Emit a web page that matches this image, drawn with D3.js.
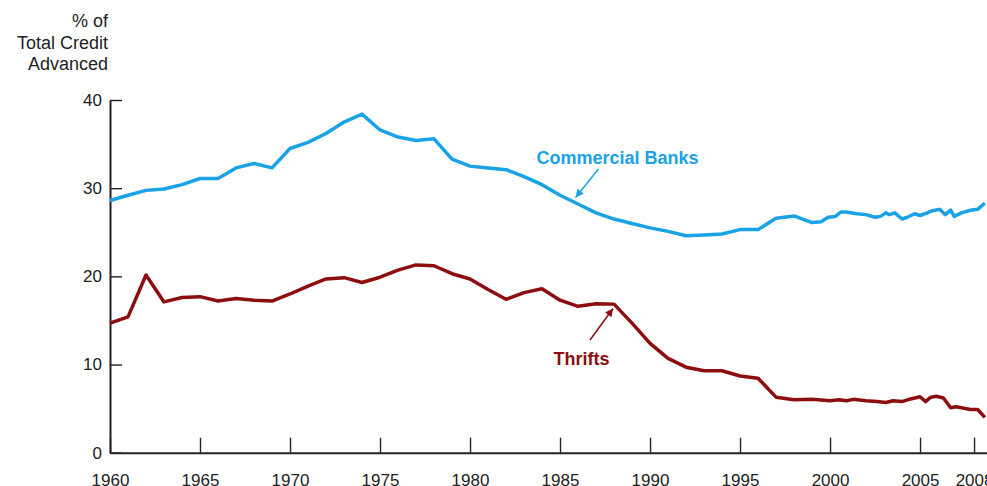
<!DOCTYPE html>
<html>
<head>
<meta charset="utf-8">
<script src="https://cdn.jsdelivr.net/npm/d3@7"></script>
<style>
  html, body { margin: 0; padding: 0; background: #fff; }
  svg { display: block; font-family: "Liberation Sans", Arial, Helvetica, sans-serif; }
</style>
</head>
<body>
<svg id="chart" width="987" height="486"></svg>
<script>
// ---- Data ----
const bankYears = [1960,1961,1962,1963,1964,1965,1966,1967,1968,1969,1970,1971,1972,1973,1974,1975,1976,1977,1978,1979,
  1980,1981,1982,1983,1984,1985,1986,1987,1988,1989,1990,1991,1992,1993,1994,1995,1996,1997,1998,1999,
  1999.5,1999.9,2000.3,2000.6,2000.9,2001.5,2002,2002.5,2002.8,2003.1,2003.3,2003.6,2004,2004.3,2004.7,2005,
  2005.4,2005.6,2006.1,2006.4,2006.7,2006.9,2007.3,2007.8,2008.2,2008.6];
const bankValues = [28.6,29.2,29.75,29.9,30.4,31.1,31.1,32.3,32.8,32.3,34.5,35.2,36.2,37.5,38.4,36.6,35.8,35.4,35.6,33.3,
  32.5,32.3,32.1,31.3,30.4,29.2,28.2,27.2,26.5,26.0,25.5,25.1,24.6,24.7,24.8,25.3,25.3,26.6,26.85,26.1,
  26.2,26.7,26.8,27.3,27.3,27.1,27.0,26.7,26.8,27.2,27.0,27.2,26.5,26.7,27.1,26.9,
  27.2,27.4,27.6,27.0,27.5,26.8,27.2,27.5,27.6,28.3];

const thriftYears = [1960,1961,1962,1963,1964,1965,1966,1967,1968,1969,1970,1971,1972,1973,1974,1975,1976,1977,1978,1979,
  1980,1981,1982,1983,1984,1985,1986,1987,1988,1989,1990,1991,1992,1993,1994,1995,1996,1997,1998,1999,
  2000,2000.5,2000.9,2001.3,2002,2002.6,2003.1,2003.5,2004,2004.3,2005,2005.3,2005.6,2005.9,2006.3,2006.7,
  2007,2007.3,2007.8,2008.2,2008.6];
const thriftValues = [14.7,15.4,20.15,17.1,17.6,17.7,17.2,17.5,17.3,17.2,18.0,18.9,19.7,19.85,19.3,19.9,20.7,21.3,21.2,20.3,
  19.7,18.5,17.4,18.15,18.6,17.3,16.6,16.9,16.85,14.7,12.4,10.7,9.7,9.3,9.3,8.7,8.45,6.3,6.0,6.05,
  5.9,6.0,5.9,6.05,5.9,5.8,5.7,5.9,5.8,6.0,6.35,5.8,6.3,6.4,6.2,5.1,
  5.2,5.1,4.9,4.9,4.0];

const xTickValues = [1960,1965,1970,1975,1980,1985,1990,1995,2000,2005,2008];
const yTickValues = [0,10,20,30,40];
const yTitleLines = ["% of", "Total Credit", "Advanced"];
const labels = { banks: "Commercial Banks", thrifts: "Thrifts" };

// ---- Layout ----
const svg = d3.select("#chart");
const mLeft = 110, mRight = 987, mTop = 100, mBottom = 452.7;
const blue = "#1aa2e6", red = "#8c0e0e", ink = "#222";

const x = d3.scaleLinear().domain([1960, 2008.72]).range([mLeft, mRight]);
const y = d3.scaleLinear().domain([0, 40]).range([mBottom, mTop]);

// Y axis
const yAxis = svg.append("g")
  .attr("transform", `translate(${mLeft},0)`)
  .call(d3.axisLeft(y).tickValues(yTickValues).tickSizeInner(-12).tickSizeOuter(0).tickPadding(8));
// X axis
const xAxis = svg.append("g")
  .attr("transform", `translate(0,${mBottom})`)
  .call(d3.axisBottom(x).tickValues(xTickValues).tickFormat(d3.format("d")).tickSizeInner(-15).tickSizeOuter(0).tickPadding(21));

[yAxis, xAxis].forEach(g => {
  g.select(".domain").attr("stroke", ink).attr("stroke-width", 2);
  g.selectAll(".tick line").attr("stroke", ink).attr("stroke-width", 1.4);
  g.selectAll(".tick text").attr("fill", ink).style("font-size", "17px")
    .style("font-family", '"Liberation Sans", Arial, sans-serif');
});

// Y axis title
svg.append("text")
  .attr("text-anchor", "end")
  .attr("fill", ink)
  .style("font-size", "18px")
  .selectAll("tspan")
  .data(yTitleLines)
  .join("tspan")
  .attr("x", 108)
  .attr("y", (d, i) => 27 + i * 21.5)
  .text(d => d);

// Lines
const line = d3.line().x(d => x(d[0])).y(d => y(d[1]));
const bankData = d3.zip(bankYears, bankValues);
const thriftData = d3.zip(thriftYears, thriftValues);

svg.append("path").datum(bankData)
  .attr("fill", "none").attr("stroke", blue).attr("stroke-width", 3.5)
  .attr("stroke-linejoin", "round").attr("d", line);
svg.append("path").datum(thriftData)
  .attr("fill", "none").attr("stroke", red).attr("stroke-width", 3.5)
  .attr("stroke-linejoin", "round").attr("d", line);

// Arrow markers
const defs = svg.append("defs");
[["arrBlue", blue], ["arrRed", red]].forEach(([id, c]) => {
  defs.append("marker")
    .attr("id", id).attr("viewBox", "0 0 10 10")
    .attr("refX", 10).attr("refY", 5)
    .attr("markerWidth", 11).attr("markerHeight", 8)
    .attr("markerUnits", "userSpaceOnUse")
    .attr("orient", "auto")
    .append("path").attr("d", "M0,0 L10,5 L0,10 Z").attr("fill", c);
});

// Annotations
svg.append("text")
  .attr("x", 536.5).attr("y", 164)
  .attr("fill", blue).style("font-size", "18px").style("font-weight", "bold")
  .text(labels.banks);
svg.append("line")
  .attr("x1", 598.5).attr("y1", 169).attr("x2", 575.5).attr("y2", 197.5)
  .attr("stroke", blue).attr("stroke-width", 1.5).attr("marker-end", "url(#arrBlue)");

svg.append("text")
  .attr("x", 581.5).attr("y", 365).attr("text-anchor", "middle")
  .attr("fill", red).style("font-size", "18px").style("font-weight", "bold")
  .text(labels.thrifts);
svg.append("line")
  .attr("x1", 590).attr("y1", 340).attr("x2", 613).attr("y2", 308.5)
  .attr("stroke", red).attr("stroke-width", 1.5).attr("marker-end", "url(#arrRed)");
</script>
</body>
</html>
